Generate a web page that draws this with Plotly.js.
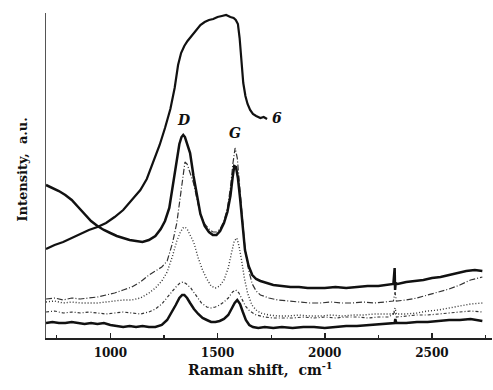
<!DOCTYPE html>
<html>
<head>
<meta charset="utf-8">
<script src="https://cdn.plot.ly/plotly-3.0.1.min.js"></script>
<style>html,body{margin:0;padding:0;background:#fff;}#chart{width:493px;height:390px;}</style>
</head>
<body>
<div id="chart"></div>
<script>
// Curve 6 (broad hump)
const x6 = [700,740,780,820,860,900,940,980,1020,1060,1100,1140,1170,1200,1230,1255,1280,1300,1316,1330,1345,1360,1375,1390,1405,1420,1440,1460,1480,1500,1520,1540,1560,1575,1585,1595,1603,1612,1620,1630,1640,1652,1665,1680,1700,1715,1731];
const y6 = [89,93,96,100,104,108,111,115,121,128,138,148,159,176,193,210,229,250,273,285,292,297,301,305,310,313,316,318,319,321,322,323,321,320,318,314,300,275,255,242,234,228,224,222,220,221,219];

// Curve A (thick solid, strong D/G)
const xA = [700,730,760,790,820,850,880,910,940,970,1000,1030,1060,1090,1120,1150,1180,1210,1235,1255,1275,1295,1310,1322,1332,1340,1348,1358,1372,1388,1405,1420,1440,1460,1478,1495,1512,1530,1546,1560,1570,1578,1586,1595,1605,1615,1628,1645,1662,1680,1700,1730,1760,1800,1840,1880,1920,1960,2000,2050,2100,2150,2200,2250,2290,2320,2326,2328,2331,2340,2380,2420,2460,2500,2540,2580,2620,2660,2700,2735];
const yA = [153,150,147,143,138,131,124,117,112,108,105,102,100,98,97,96,98,102,109,117,130,158,180,194,201,203,201,195,185,162,140,124,112,106,103,103,107,115,126,142,160,172,171,160,140,118,88,72,63,59,57,55,53,52,51,51,50,50,50,51,50,51,52,52,53,54,70,48,55,54,56,57,58,60,61,63,65,67,68,67];

// Curve B (dash-dot)
const xB = [700,740,780,820,860,900,940,980,1020,1060,1100,1140,1180,1210,1240,1265,1290,1310,1325,1338,1348,1358,1372,1388,1405,1420,1440,1460,1478,1495,1512,1530,1546,1560,1572,1582,1592,1602,1614,1628,1645,1662,1680,1700,1740,1780,1830,1880,1930,1980,2030,2080,2130,2180,2230,2280,2320,2328,2334,2380,2430,2480,2530,2580,2630,2680,2735];
const yB = [39,40,38,40,39,40,41,43,45,48,51,56,63,67,71,77,95,115,140,165,176,174,166,155,138,124,114,109,106,106,109,117,130,150,175,190,180,155,120,90,68,54,47,43,40,38,37,36,35,35,36,35,35,36,35,36,37,46,37,38,40,43,46,49,53,58,61];

// Curve C (dotted)
const xC = [700,740,780,820,860,900,940,980,1020,1060,1100,1140,1180,1210,1240,1265,1290,1310,1325,1338,1348,1358,1372,1390,1410,1430,1450,1470,1490,1510,1530,1550,1565,1578,1590,1600,1612,1625,1640,1660,1680,1700,1740,1780,1830,1880,1930,1980,2030,2080,2130,2180,2230,2280,2320,2328,2334,2380,2430,2480,2530,2580,2630,2680,2735];
const yC = [36,37,35,36,35,35,35,36,37,38,38,40,45,50,57,66,82,97,105,110,111,109,103,95,80,68,59,52,50,52,58,70,85,97,100,92,78,60,45,33,28,25,23,22,22,23,22,22,23,22,23,23,24,24,24,30,24,24,25,27,28,30,32,34,35];

// Curve D (dashed)
const xD = [700,740,780,820,860,900,940,980,1020,1060,1100,1140,1180,1210,1240,1265,1290,1310,1325,1340,1355,1375,1400,1425,1450,1470,1490,1510,1530,1550,1570,1585,1600,1615,1630,1650,1680,1720,1760,1800,1850,1900,1950,2000,2050,2100,2150,2200,2250,2300,2328,2334,2380,2430,2480,2530,2580,2630,2680,2735];
const yD = [26,27,25,26,25,26,25,24,25,26,25,24,26,29,34,40,47,52,55,56,54,50,42,35,31,30,31,33,36,40,46,48,45,38,32,27,23,21,20,20,20,21,20,21,20,21,21,20,21,21,26,21,22,23,23,24,25,26,27,26];

// Curve E (thick solid, bottom)
const xE = [700,730,760,790,820,850,880,910,940,970,1000,1030,1060,1090,1120,1150,1180,1210,1240,1265,1285,1305,1322,1335,1345,1358,1372,1390,1410,1430,1450,1470,1490,1510,1530,1550,1565,1580,1592,1605,1618,1632,1648,1665,1690,1720,1760,1800,1850,1900,1950,2000,2050,2100,2150,2200,2250,2300,2326,2329,2334,2380,2430,2480,2530,2580,2630,2680,2735];
const yE = [15,16,15,15,16,15,14,15,14,15,13,12,11,12,11,12,11,11,13,18,25,33,40,43,43,40,35,29,24,20,18,16,16,17,19,23,29,35,38,34,26,18,13,11,10,11,10,11,10,11,11,10,11,12,12,13,14,15,15,19,15,15,16,16,17,18,18,19,17];

const majorTicks = [1000,1500,2000,2500];
const minorTicks = [750,1250,1750,2250,2750];
const peakLabels = [{t:'D', x:1343, y:218}, {t:'G', x:1582, y:205}, {t:'6', x:1778, y:220}];

const serif = 'DejaVu Serif, Liberation Serif, serif';
function tr(x, y, width, dash, color) {
  return {x:x, y:y, type:'scatter', mode:'lines', hoverinfo:'skip',
          line:{color:color, width:width, dash:dash}};
}
const data = [
  tr(xE, yE, 2.5, 'solid', '#111'),
  tr(xD, yD, 1.2, '3px,2px,1px,2px', '#333'),
  tr(xC, yC, 1.4, '1px,2px', '#333'),
  tr(xB, yB, 1.2, '6px,2px,1px,2px', '#333'),
  tr(xA, yA, 2.5, 'solid', '#111'),
  tr(x6, y6, 2.2, 'solid', '#111')
];

const annotations = peakLabels.map(p => ({
  x:p.x, y:p.y, xref:'x', yref:'y', text:'<i><b>'+p.t+'</b></i>', showarrow:false,
  font:{family:serif, size:14, color:'#111'}
}));
annotations.push({
  x:(260-46)/446, y:(338-380)/325, xref:'paper', yref:'paper',
  text:'<b>Raman shift,  cm<sup>-1</sup></b>', showarrow:false,
  font:{family:serif, size:14, color:'#111'}
});
annotations.push({
  x:(12-46)/446, y:(338-170)/325, xref:'paper', yref:'paper', textangle:-90,
  text:'<b>Intensity,  a.u.</b>', showarrow:false,
  font:{family:serif, size:13, color:'#111'}
});

const layout = {
  width:493, height:390,
  margin:{l:46, r:1, t:13, b:52},
  paper_bgcolor:'#fff', plot_bgcolor:'#fff',
  showlegend:false,
  xaxis:{
    range:[700, 2780], showline:true, linecolor:'#222', linewidth:1.5,
    ticks:'inside', ticklen:5, tickwidth:1.5, tickcolor:'#222',
    tickmode:'array', tickvals:majorTicks, ticktext:majorTicks.map(v => '<b>' + v + '</b>'),
    ticklabelstandoff:3,
    minor:{tickmode:'array', tickvals:minorTicks, ticks:'inside', ticklen:3, tickwidth:1.2, tickcolor:'#222', showgrid:false},
    showgrid:false, zeroline:false,
    tickfont:{family:serif, size:12, color:'#111'}
  },
  yaxis:{
    range:[0, 325], showline:true, linecolor:'#555', linewidth:1.2,
    ticks:'', showticklabels:false, showgrid:false, zeroline:false
  },
  annotations:annotations
};
Plotly.newPlot('chart', data, layout, {staticPlot:true, displayModeBar:false});
</script>
</body>
</html>
